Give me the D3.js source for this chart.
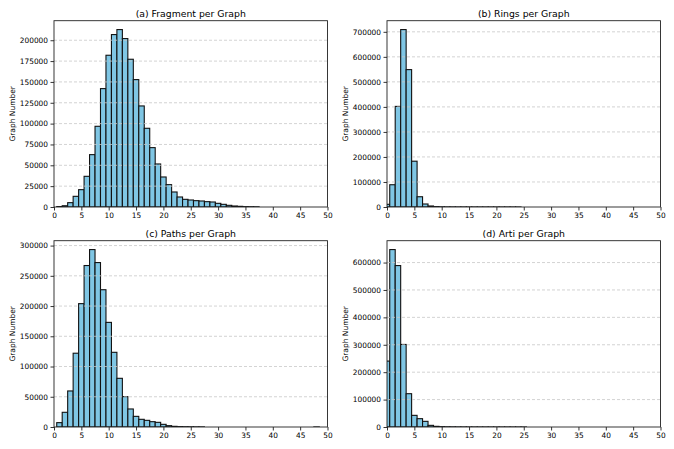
<!DOCTYPE html>
<html lang="en">
<head>
    <meta charset="UTF-8">
    <script src="https://d3js.org/d3.v7.min.js"></script>
    <title>Graph statistics</title>
    <style>
        body { margin: 0; background: white; }
        svg text { font-family: "DejaVu Sans", sans-serif; fill: #000; }
        .grid line { stroke: #c8c8c8; stroke-width: 0.8; stroke-dasharray: 3 2; }
    </style>
</head>
<body>
    <div id="svg"></div>
    <script>
        /*------------------- data (count per bin 0..50) --------------------*/
        const bins = d3.range(0, 51);

        const fragmentCounts = [0, 500, 1500, 5200, 12800, 20800, 36800, 62800, 96800, 142000,
            182000, 206800, 212800, 202000, 177200, 152800, 121200, 94400, 71200, 51600,
            36000, 26800, 18000, 12000, 9200, 8400, 7600, 7200, 6400, 6000,
            4400, 3200, 2000, 1200, 800, 400, 300, 200, 0, 0,
            0, 0, 0, 0, 0, 0, 0, 0, 0, 0, 0];

        const ringCounts = [10700, 89000, 402000, 709000, 549000, 183000, 41000, 12000, 4000, 1500,
            700, 400, 300, 200, 150, 100, 80, 60, 50, 40,
            30, 30, 20, 20, 10, 0, 0, 0, 0, 0,
            0, 0, 0, 0, 0, 0, 0, 0, 0, 0,
            0, 0, 0, 0, 0, 0, 0, 0, 0, 0, 0];

        const pathCounts = [0, 7200, 24300, 59600, 122000, 204000, 267000, 293400, 271900, 227000,
            173000, 123500, 80500, 50200, 29800, 17600, 12700, 11000, 8800, 7700,
            4400, 2200, 1100, 600, 400, 300, 200, 150, 0, 0,
            0, 0, 0, 0, 0, 0, 0, 0, 0, 0,
            0, 0, 0, 0, 0, 0, 0, 0, 60, 0, 0];

        const artiCounts = [240500, 647400, 589000, 301200, 121500, 42500, 30400, 20600, 6000, 2400,
            1200, 700, 500, 300, 200, 150, 100, 80, 60, 50,
            40, 30, 20, 20, 10, 10, 0, 0, 0, 0,
            0, 0, 0, 0, 0, 0, 0, 0, 0, 0,
            0, 0, 0, 0, 0, 0, 0, 0, 0, 0, 0];

        const xTicks = d3.range(0, 51, 5);

        const panels = [
            { title: "(a) Fragment per Graph", counts: fragmentCounts, yTicks: d3.range(0, 200001, 25000), col: 0, row: 0 },
            { title: "(b) Rings per Graph", counts: ringCounts, yTicks: d3.range(0, 700001, 100000), col: 1, row: 0 },
            { title: "(c) Paths per Graph", counts: pathCounts, yTicks: d3.range(0, 300001, 50000), col: 0, row: 1 },
            { title: "(d) Arti per Graph", counts: artiCounts, yTicks: d3.range(0, 600001, 100000), col: 1, row: 1 }
        ];

        /*------------------- layout --------------------*/
        const width = 674, height = 449;
        const colLeft = [54, 387];
        const rowTop = [20.7, 240.7];
        const plotW = 273.5, plotH = 186.3;

        const svg = d3.select("#svg").append("svg")
            .attr("width", width)
            .attr("height", height);

        panels.forEach(p => {
            const left = colLeft[p.col];
            const top = rowTop[p.row];
            const g = svg.append("g").attr("transform", `translate(${left},${top})`);

            const x = d3.scaleLinear().domain([0, 50]).range([0, plotW]);
            const y = d3.scaleLinear().domain([0, d3.max(p.counts) * 1.05]).range([plotH, 0]);

            // clip so bars at 0 are cut at the axis edge
            const clipId = "clip" + p.col + p.row;
            g.append("clipPath").attr("id", clipId)
                .append("rect").attr("width", plotW).attr("height", plotH);

            // bars
            g.append("g").attr("clip-path", `url(#${clipId})`)
                .selectAll("rect")
                .data(bins.map((b, i) => ({ b: b, v: p.counts[i] })).filter(d => d.v > 0))
                .enter()
                .append("rect")
                .attr("x", d => x(d.b - 0.5))
                .attr("y", d => y(d.v))
                .attr("width", x(1) - x(0))
                .attr("height", d => plotH - y(d.v))
                .attr("fill", "#7fc6e4")
                .attr("stroke", "#111")
                .attr("stroke-width", 1.1);

            // y grid (above bars, like matplotlib)
            g.append("g").attr("class", "grid")
                .selectAll("line")
                .data(p.yTicks.filter(t => t > 0))
                .enter()
                .append("line")
                .attr("x1", 0).attr("x2", plotW)
                .attr("y1", d => y(d)).attr("y2", d => y(d));

            // axes
            const xAxis = g.append("g")
                .attr("transform", `translate(0,${plotH})`)
                .call(d3.axisBottom(x).tickValues(xTicks).tickSize(3.5).tickPadding(2.5).tickFormat(d3.format("d")));
            const yAxis = g.append("g")
                .call(d3.axisLeft(y).tickValues(p.yTicks).tickSize(3.5).tickPadding(2.5).tickFormat(d3.format("d")));
            [xAxis, yAxis].forEach(a => {
                a.select(".domain").remove();
                a.selectAll("line").attr("stroke", "#000").attr("stroke-width", 0.8);
                a.selectAll("text").style("font-family", "DejaVu Sans").style("font-size", "7.4px");
            });

            // frame
            g.append("rect")
                .attr("width", plotW).attr("height", plotH)
                .attr("fill", "none")
                .attr("stroke", "#222")
                .attr("stroke-width", 0.9);

            // title
            g.append("text")
                .attr("x", plotW / 2)
                .attr("y", -4.2)
                .attr("text-anchor", "middle")
                .style("font-size", "9.3px")
                .text(p.title);

            // y label
            g.append("text")
                .attr("transform", `translate(${-42},${plotH / 2}) rotate(-90)`)
                .attr("text-anchor", "middle")
                .attr("dy", "0.35em")
                .style("font-size", "7.5px")
                .text("Graph Number");
        });
    </script>
</body>
</html>
